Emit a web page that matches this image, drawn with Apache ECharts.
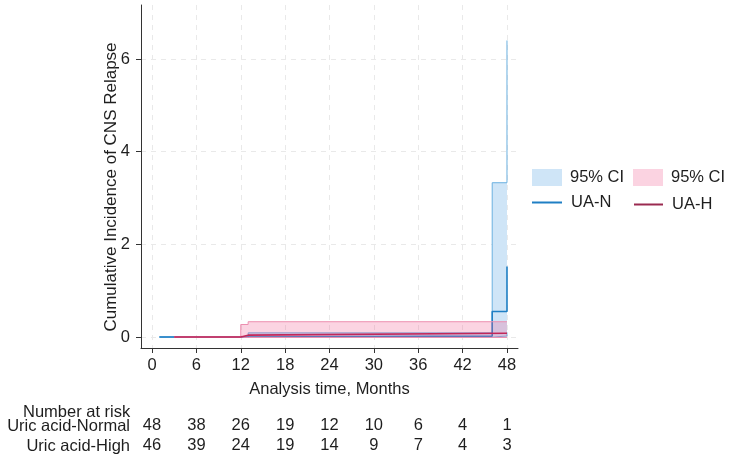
<!DOCTYPE html>
<html>
<head>
<meta charset="utf-8">
<script src="https://cdn.jsdelivr.net/npm/echarts@6/dist/echarts.min.js"></script>
<style>html,body{margin:0;padding:0;background:#fff}#c{width:732px;height:467px}</style>
</head>
<body>
<div id="c"></div>
<script>
// ---- data ----
var xTicks = [0, 6, 12, 18, 24, 30, 36, 42, 48];
var yTicks = [0, 2, 4, 6];
// UA-N (uric acid normal)
var timeN = [1, 13, 46, 48];
var estN  = [0, 0.02, 0.55, 1.52];
var loN   = [0, 0, 0.02, 0.1];
var hiN   = [0, 0.09, 3.33, 6.4];
// UA-H (uric acid high)
var timeH = [3, 12, 13, 48];
var estH  = [0, 0.04, 0.08, 0.08];
var loH   = [0, -0.01, -0.01, -0.01];
var hiH   = [0, 0.27, 0.33, 0.33];
// number at risk
var riskLabels = ['Uric acid-Normal', 'Uric acid-High'];
var riskN = [48, 38, 26, 19, 12, 10, 6, 4, 1];
var riskH = [46, 39, 24, 19, 14, 9, 7, 4, 3];

var FONT = "'Liberation Sans', Arial, sans-serif";
var FS = 16.5;
var TXT = '#1e1e1e';
var blueLine = '#1f7fc4', blueFill = '#cfe5f7', blueEdge = '#6ab0e0';
var pinkLine = '#c2275a', pinkFill = 'rgba(240,100,150,0.28)', pinkEdge = '#ec8fb0';

function pairs(t, v) { return t.map(function (x, i) { return [x, v[i]]; }); }
// band segments: [t_start, t_end, lo, hi]
function segs(t, lo, hi) {
  var out = [];
  for (var i = 0; i < t.length - 1; i++) out.push([t[i], t[i + 1], lo[i], hi[i]]);
  return out;
}
function bandSeries(name, t, lo, hi, fill, z) {
  return {
    name: name, type: 'custom', z: z, silent: true,
    encode: {x: [0, 1], y: [2, 3]},
    data: segs(t, lo, hi),
    renderItem: function (params, api) {
      var p0 = api.coord([api.value(0), api.value(3)]);
      var p1 = api.coord([api.value(1), api.value(2)]);
      return {type: 'rect', shape: {x: p0[0], y: p0[1], width: p1[0] - p0[0], height: p1[1] - p0[1]},
              style: {fill: fill}};
    }
  };
}
function edge(name, t, v, color, z) {
  return {name: name, type: 'line', step: 'end', symbol: 'none', data: pairs(t, v),
          lineStyle: {color: color, width: 1}, z: z, silent: true};
}

var XMIN = -1.49, XMAX = 49.49;

function riskAxis(arr, off) {
  return {
    type: 'value', min: XMIN, max: XMAX, position: 'bottom', offset: off,
    axisLine: {show: false}, axisTick: {show: false}, splitLine: {show: false},
    axisLabel: {
      customValues: xTicks, margin: 0, fontSize: FS, fontFamily: FONT, color: TXT,
      formatter: function (v) { var i = xTicks.indexOf(Math.round(v)); return i < 0 ? '' : String(arr[i]); }
    }
  };
}

var chart = echarts.init(document.getElementById('c'));
chart.setOption({
  animation: false,
  backgroundColor: '#ffffff',
  grid: {left: 141, right: 214, top: 5, bottom: 119},
  xAxis: [{
    type: 'value', min: XMIN, max: XMAX,
    name: 'Analysis time, Months', nameLocation: 'middle', nameGap: 33,
    nameTextStyle: {fontSize: FS, fontFamily: FONT, color: TXT},
    axisLine: {show: true, onZero: false, lineStyle: {color: '#333', width: 1}},
    axisTick: {show: true, customValues: xTicks, length: 5, lineStyle: {color: '#333'}},
    axisLabel: {customValues: xTicks, margin: 9, fontSize: FS, fontFamily: FONT, color: TXT},
    splitLine: {show: true, lineStyle: {color: '#e9e9e9', type: [5, 5], width: 1}}
  }, riskAxis(riskN, 69), riskAxis(riskH, 89)],
  yAxis: {
    type: 'value', min: -0.237, max: 7.166,
    axisLine: {show: true, onZero: false, lineStyle: {color: '#333', width: 1}},
    axisTick: {show: true, customValues: yTicks, length: 5, lineStyle: {color: '#333'}},
    axisLabel: {customValues: yTicks, margin: 11, fontSize: FS, fontFamily: FONT, color: TXT},
    splitLine: {show: true, lineStyle: {color: '#e9e9e9', type: [5, 5], width: 1}}
  },
  legend: [
    {data: [{name: 'CI-N', icon: 'rect', itemStyle: {color: blueFill, borderWidth: 0}}],
     left: 532, top: 169, padding: 0, itemWidth: 30, itemHeight: 17, selectedMode: false,
     formatter: function () { return '95% CI'; },
     textStyle: {fontSize: FS, fontFamily: FONT, color: TXT, padding: [0, 0, 0, 3]}},
    {data: [{name: 'CI-H', icon: 'rect', itemStyle: {color: '#fbd3e1', borderWidth: 0}}],
     left: 633, top: 169, padding: 0, itemWidth: 30, itemHeight: 17, selectedMode: false,
     formatter: function () { return '95% CI'; },
     textStyle: {fontSize: FS, fontFamily: FONT, color: TXT, padding: [0, 0, 0, 3]}},
    {data: [{name: 'UA-N', icon: 'rect', itemStyle: {color: blueLine, borderWidth: 0}}],
     left: 532, top: 194, padding: 0, itemWidth: 30, itemHeight: 2, selectedMode: false,
     textStyle: {fontSize: FS, fontFamily: FONT, color: TXT, padding: [0, 0, 0, 4]}},
    {data: [{name: 'UA-H', icon: 'rect', itemStyle: {color: '#9a2a50', borderWidth: 0}}],
     left: 634, top: 196, padding: 0, itemWidth: 29, itemHeight: 2, selectedMode: false,
     textStyle: {fontSize: FS, fontFamily: FONT, color: TXT, padding: [0, 0, 0, 4]}}
  ],
  series: [
    bandSeries('CI-N', timeN, loN, hiN, blueFill, 1),
    edge('hiN', timeN, hiN, blueEdge, 1),
    edge('loN', timeN, loN, blueEdge, 1),
    {name: 'UA-N', type: 'line', step: 'end', symbol: 'none', data: pairs(timeN, estN),
     lineStyle: {color: blueLine, width: 1.6}, z: 2, silent: true},
    bandSeries('CI-H', timeH, loH, hiH, pinkFill, 3),
    edge('hiH', timeH, hiH, pinkEdge, 3),
    edge('loH', timeH, loH, pinkEdge, 3),
    {name: 'UA-H', type: 'line', step: 'end', symbol: 'none', data: pairs(timeH, estH),
     lineStyle: {color: pinkLine, width: 1.6}, z: 4, silent: true}
  ],
  graphic: [
    {type: 'text', left: 23, top: 404, style: {text: 'Number at risk', font: FS + 'px ' + FONT, fill: TXT}},
    {type: 'text', x: 130, y: 426, style: {text: riskLabels[0], font: FS + 'px ' + FONT, fill: TXT, align: 'right', verticalAlign: 'middle'}},
    {type: 'text', x: 130, y: 446, style: {text: riskLabels[1], font: FS + 'px ' + FONT, fill: TXT, align: 'right', verticalAlign: 'middle'}},
    {type: 'text', x: 111, y: 187, rotation: Math.PI / 2,
     style: {text: 'Cumulative Incidence of CNS Relapse', font: '17px ' + FONT, fill: TXT, align: 'center', verticalAlign: 'middle'}}
  ]
});
</script>
</body>
</html>
